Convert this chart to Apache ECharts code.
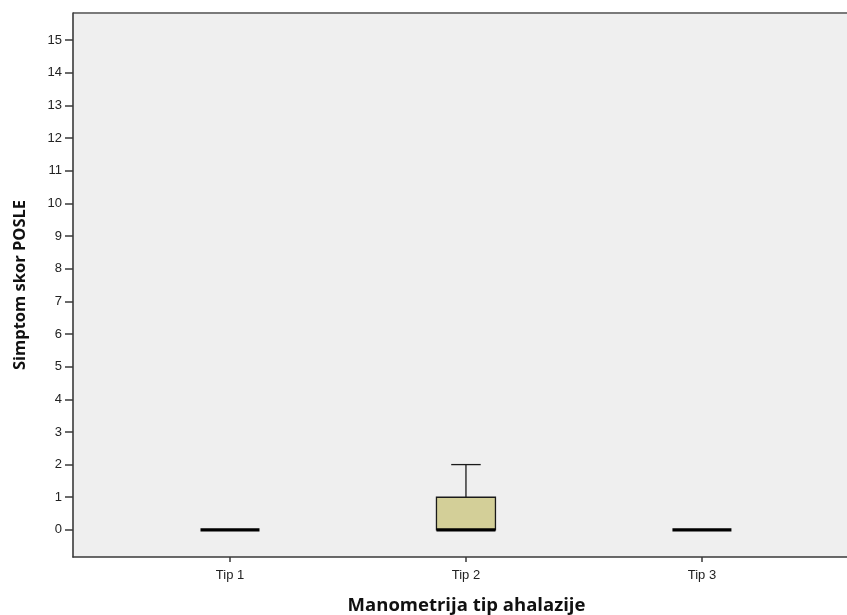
<!DOCTYPE html>
<html>
<head>
<meta charset="utf-8">
<script src="https://cdn.jsdelivr.net/npm/echarts@6/dist/echarts.min.js"></script>
<style>
  html, body { margin: 0; padding: 0; background: #ffffff; }
  #chart { width: 847px; height: 615px; }
</style>
</head>
<body>
<div id="chart"></div>
<script>
// Groups (manometric achalasia type) and their box-plot summaries
const categories = ['Tip 1', 'Tip 2', 'Tip 3'];
const positions = [1, 2, 3];
const minValues = [0, 0, 0];
const q1Values = [0, 0, 0];
const medianValues = [0, 0, 0];
const q3Values = [0, 1, 0];
const maxValues = [0, 2, 0];
const yTicks = [0, 1, 2, 3, 4, 5, 6, 7, 8, 9, 10, 11, 12, 13, 14, 15];

const boxData = positions.map((p, i) => [p, minValues[i], q1Values[i], medianValues[i], q3Values[i], maxValues[i]]);

const chart = echarts.init(document.getElementById('chart'), null, { renderer: 'canvas' });

function renderBox(params, api) {
  const x = api.value(0);
  const vMin = api.value(1), vQ1 = api.value(2), vMed = api.value(3), vQ3 = api.value(4), vMax = api.value(5);
  const boxW = api.size([0.25, 0])[0];
  const capW = boxW / 2;
  const pMin = api.coord([x, vMin]);
  const pQ1 = api.coord([x, vQ1]);
  const pMed = api.coord([x, vMed]);
  const pQ3 = api.coord([x, vQ3]);
  const pMax = api.coord([x, vMax]);
  const cx = pMed[0];
  const children = [];
  const lineStyle = { stroke: '#1a1a1a', lineWidth: 1.3 };
  if (vMax > vQ3) {
    children.push({ type: 'line', shape: { x1: cx, y1: pQ3[1], x2: cx, y2: pMax[1] }, style: lineStyle });
    children.push({ type: 'line', shape: { x1: cx - capW / 2, y1: pMax[1], x2: cx + capW / 2, y2: pMax[1] }, style: lineStyle });
  }
  if (vMin < vQ1) {
    children.push({ type: 'line', shape: { x1: cx, y1: pQ1[1], x2: cx, y2: pMin[1] }, style: lineStyle });
    children.push({ type: 'line', shape: { x1: cx - capW / 2, y1: pMin[1], x2: cx + capW / 2, y2: pMin[1] }, style: lineStyle });
  }
  if (vQ3 > vQ1) {
    children.push({
      type: 'rect',
      shape: { x: cx - boxW / 2, y: pQ3[1], width: boxW, height: pQ1[1] - pQ3[1] },
      style: { fill: '#d3cf98', stroke: '#1a1a1a', lineWidth: 1.3 }
    });
  }
  children.push({
    type: 'line',
    shape: { x1: cx - boxW / 2, y1: pMed[1], x2: cx + boxW / 2, y2: pMed[1] },
    style: { stroke: '#000000', lineWidth: 3.2 }
  });
  return { type: 'group', children: children };
}

const tickFont = 'Liberation Sans, Arial, sans-serif';
const titleFont = 'Open Sans, DejaVu Sans, sans-serif';

chart.setOption({
  animation: false,
  backgroundColor: '#ffffff',
  grid: {
    left: 73, right: -1, top: 13, bottom: 58,
    outerBoundsMode: 'none',
    containLabel: false,
    show: true, backgroundColor: '#efefef', borderWidth: 0
  },
  xAxis: {
    type: 'value',
    min: 0.3347,
    max: 3.619,
    name: 'Manometrija tip ahalazije',
    nameLocation: 'middle',
    nameGap: 39,
    nameTextStyle: { fontFamily: titleFont, fontWeight: 'bold', fontSize: 18.5, color: '#111111', padding: [0, 0, 0, 12] },
    axisLine: { show: true, onZero: false, lineStyle: { color: '#3a3a3a', width: 1.6 } },
    axisTick: { show: true, length: 5, customValues: positions, lineStyle: { color: '#3a3a3a', width: 1.5 } },
    axisLabel: {
      customValues: positions,
      formatter: v => categories[positions.indexOf(v)] || '',
      margin: 12,
      fontFamily: tickFont,
      fontSize: 13, color: '#222222'
    },
    splitLine: { show: false }
  },
  yAxis: {
    type: 'value',
    min: -0.83,
    max: 15.83,
    name: 'Simptom skor POSLE',
    nameLocation: 'middle',
    nameGap: 44,
    nameTextStyle: { fontFamily: titleFont, fontWeight: 'bold', fontSize: 16.5, color: '#111111' },
    axisLine: { show: true, onZero: false, lineStyle: { color: '#3a3a3a', width: 1.6 } },
    axisTick: { show: true, length: 8, customValues: yTicks, lineStyle: { color: '#3a3a3a', width: 1.5 } },
    axisLabel: {
      customValues: yTicks,
      margin: 11,
      fontFamily: tickFont,
      fontSize: 13, color: '#222222'
    },
    splitLine: { show: false }
  },
  graphic: [{
    // top frame edge of the plot panel
    type: 'line',
    shape: { x1: 73, y1: 13, x2: 847, y2: 13 },
    style: { stroke: '#7a7a7a', lineWidth: 2 }
  }],
  series: [{
    type: 'custom',
    renderItem: renderBox,
    encode: { x: 0, y: [1, 2, 3, 4, 5] },
    data: boxData,
    clip: true
  }]
});
</script>
</body>
</html>
